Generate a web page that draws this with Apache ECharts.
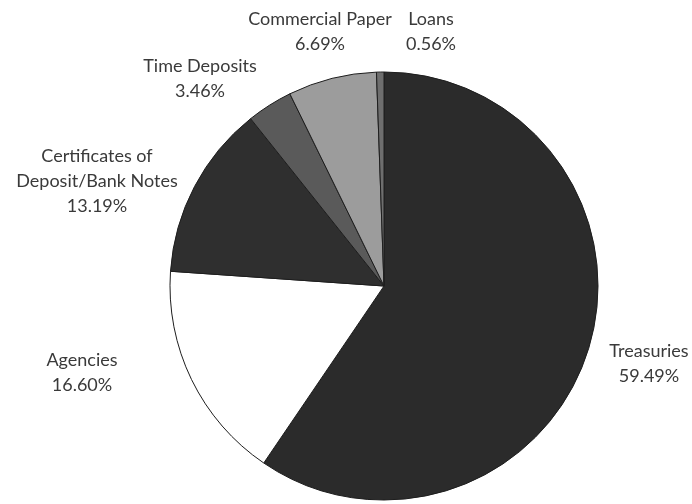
<!DOCTYPE html>
<html>
<head>
<meta charset="utf-8">
<script src="https://cdn.jsdelivr.net/npm/echarts@6/dist/echarts.min.js"></script>
<style>
  html, body { margin: 0; padding: 0; background: #fff; }
  #chart { width: 692px; height: 504px; }
</style>
</head>
<body>
<div id="chart"></div>
<script>
// portfolio mix, clockwise from 12 o'clock
const categories = ['Treasuries', 'Agencies', 'Certificates of\nDeposit/Bank Notes', 'Time Deposits', 'Commercial Paper', 'Loans'];
const shares = [59.49, 16.60, 13.19, 3.46, 6.69, 0.56];

const sliceColors = ['#2b2b2b', '#ffffff', '#2f2f2f', '#5a5a5a', '#9c9c9c', '#6e6e6e'];

// label block centres, offset from the pie centre (Excel best-fit placement)
const CX = 384, CY = 286, R = 214;
const labelOffsets = [[265, 78], [-302, 87], [-287, -105], [-184, -207], [-64, -254], [47, -254]];

const chart = echarts.init(document.getElementById('chart'));

chart.setOption({
  animation: false,
  backgroundColor: '#fff',
  series: [{
    type: 'pie',
    center: [CX, CY],
    radius: [0, R],
    startAngle: 90,
    clockwise: true,
    avoidLabelOverlap: false,
    data: categories.map((name, i) => ({
      name,
      value: shares[i],
      itemStyle: { color: sliceColors[i] }
    })),
    itemStyle: { borderColor: '#1e1e1e', borderWidth: 1 },
    label: {
      show: true,
      position: 'outside',
      formatter: p => p.name + '\n' + p.value.toFixed(2) + '%',
      fontFamily: 'Lato',
      fontSize: 18,
      lineHeight: 25,
      color: '#3a3a3a',
      align: 'center'
    },
    labelLine: { show: false },
    labelLayout: p => ({
      x: CX + labelOffsets[p.dataIndex][0],
      y: CY + labelOffsets[p.dataIndex][1],
      align: 'center',
      verticalAlign: 'middle'
    }),
    emphasis: { disabled: true }
  }]
});
</script>
</body>
</html>
